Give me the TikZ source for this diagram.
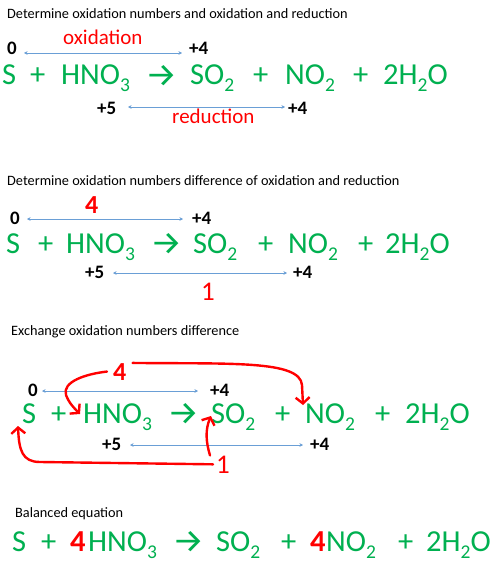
\documentclass[tikz,border=0pt]{standalone}
\usepackage{fontspec}
\setmainfont{Carlito}
\newfontfamily\arrfont{Fira Sans}
\usetikzlibrary{arrows.meta}
\definecolor{eqgreen}{HTML}{00B050}
\definecolor{redc}{HTML}{FF0000}
\definecolor{bluec}{HTML}{6A9FD6}
\newcommand\sbx[1]{\raisebox{-7pt}{\fontsize{19.5}{19.5}\selectfont #1}}
\newcommand\rxarrow{\raisebox{-1.5pt}{\scalebox{1.2}[1.1]{→}}}
\begin{document}
\begin{tikzpicture}[x=1pt,y=-1pt,
  title/.style={anchor=base west, inner sep=0pt, font=\fontsize{14.3}{16}\selectfont},
  eq/.style={anchor=base west, inner sep=0pt, text=eqgreen, font=\fontsize{30.5}{31}\selectfont},
  rxn/.style={anchor=base west, inner sep=0pt, text=eqgreen, font=\arrfont\fontsize{30}{31}\selectfont},
  coef/.style={anchor=base west, inner sep=0pt, text=redc, font=\bfseries\fontsize{30.5}{31}\selectfont},
  onum/.style={anchor=base west, inner sep=0pt, font=\bfseries\fontsize{19}{20}\selectfont},
  rlabel/.style={anchor=base west, inner sep=0pt, text=redc, font=\fontsize{21}{22}\selectfont},
  bignum/.style={anchor=base west, inner sep=0pt, text=redc, font=\bfseries\fontsize{26}{26}\selectfont},
  thinnum/.style={anchor=base west, inner sep=0pt, text=redc, font=\fontsize{27}{27}\selectfont},
  barrow/.style={draw=bluec, line width=0.9pt, arrows={Stealth[length=3.5pt,width=3.5pt]-Stealth[length=3.5pt,width=3.5pt]}},
  rarrow/.style={draw=redc, line width=2.4pt, line cap=round, arrows={-Straight Barb[length=6pt,width=14pt]}}
]
\fill[white] (0,0) rectangle (500,567);
\useasboundingbox (0,0) rectangle (500,567);

% ---------- Section 1
\node[title] (t1) at (7,19) {Determine oxidation numbers and oxidation and reduction};
\node[rlabel] (ox1) at (63,45) {oxidation};
\node[onum] (a0) at (7,55) {0};
\node[onum] (a4) at (189,55) {+4};
\coordinate (a0r) at (24,53); \coordinate (a4l) at (182,53);
\draw[barrow] (a0r) -- (a4l);
\node[eq] (s1) at (2,85) {S};
\node[eq] (pa1) at (30,85) {+};
\node[eq] (h1) at (61,85) {HNO\sbx{3}};
\node[rxn] (r1) at (145,85) {\rxarrow};
\node[eq] (so1) at (190,85) {SO\sbx{2}};
\node[eq] (pb1) at (253,85) {+};
\node[eq] (n1) at (285,85) {NO\sbx{2}};
\node[eq] (pc1) at (353,85) {+};
\node[eq] (w1) at (383,85) {2H\sbx{2}O};
\node[onum] (b5) at (97,115) {+5};
\node[onum] (b4) at (288,115) {+4};
\coordinate (b5r) at (128,107); \coordinate (b4l) at (285,107);
\draw[barrow] (b5r) -- (b4l);
\node[rlabel] (red1) at (172,124) {reduction};

% ---------- Section 2
\node[title] (t2) at (7,185) {Determine oxidation numbers difference of oxidation and reduction};
\node[bignum] (d4) at (85,213) {4};
\node[onum] (c0) at (10,224) {0};
\node[onum] (c4) at (192,224) {+4};
\coordinate (c0r) at (27,219); \coordinate (c4l) at (183,219);
\draw[barrow] (c0r) -- (c4l);
\node[eq] (s2) at (6,253) {S};
\node[eq] (pa2) at (38,253) {+};
\node[eq] (h2) at (66,253) {HNO\sbx{3}};
\node[rxn] (r2) at (150,253) {\rxarrow};
\node[eq] (so2) at (193,253) {SO\sbx{2}};
\node[eq] (pb2) at (258,253) {+};
\node[eq] (n2) at (288,253) {NO\sbx{2}};
\node[eq] (pc2) at (358,253) {+};
\node[eq] (w2) at (385,253) {2H\sbx{2}O};
\node[onum] (e5) at (85,278) {+5};
\node[onum] (e4) at (293,278) {+4};
\coordinate (e5r) at (113,273); \coordinate (e4l) at (287,273);
\draw[barrow] (e5r) -- (e4l);
\node[thinnum] (d1) at (201,300) {1};

% ---------- Section 3
\node[title] (t3) at (11,335) {Exchange oxidation numbers difference};
\node[bignum] (f4) at (113,380) {4};
\node[onum] (g0) at (28,396) {0};
\node[onum] (g4) at (210,396) {+4};
\coordinate (g0r) at (42,391); \coordinate (g4l) at (198,391);
\draw[barrow] (g0r) -- (g4l);
\node[eq] (s3) at (22,423) {S};
\node[eq] (pa3) at (51,423) {+};
\node[eq] (h3) at (83,423) {HNO\sbx{3}};
\node[rxn] (r3) at (167,423) {\rxarrow};
\node[eq] (so3) at (211,423) {SO\sbx{2}};
\node[eq] (pb3) at (275,423) {+};
\node[eq] (n3) at (305,423) {NO\sbx{2}};
\node[eq] (pc3) at (375,423) {+};
\node[eq] (w3) at (405,423) {2H\sbx{2}O};
\node[onum] (k5) at (102,450) {+5};
\node[onum] (k4) at (310,450) {+4};
\coordinate (k5r) at (130,445); \coordinate (k4l) at (303,445);
\draw[barrow] (k5r) -- (k4l);
\node[thinnum] (f1) at (216,473) {1};
% red exchange arrows
\coordinate (tipA) at (80,414);
\coordinate (tipB) at (303,405);
\coordinate (tipC) at (18,426);
\coordinate (tipD) at (211,416);
\draw[rarrow] ([xshift=-6pt]f4.west) .. controls (85,374) and (62,382) .. (66,395) .. controls (69,403) and (74,408) .. (tipA);
\draw[rarrow] ([xshift=6pt]f4.north east) .. controls (230,364) and (300,360) .. (302,385) -- (tipB);
\draw[rarrow] ([xshift=-3pt]f1.west) -- (40,462) .. controls (22,462) and (19,450) .. (tipC);
\draw[rarrow] ([xshift=-6pt]f1.north west) .. controls (206,442) and (205,430) .. (tipD);

% ---------- Section 4
\node[title] (t4) at (15,517) {Balanced equation};
\node[eq] (s4) at (12,551) {S};
\node[eq] (pa4) at (41,551) {+};
\node[coef] (q4a) at (70,551) {4};
\node[eq] (h4) at (88,551) {HNO\sbx{3}};
\node[rxn] (r4) at (172,551) {\rxarrow};
\node[eq] (so4) at (216,551) {SO\sbx{2}};
\node[eq] (pb4) at (281,551) {+};
\node[coef] (q4b) at (310,551) {4};
\node[eq] (n4) at (326,551) {NO\sbx{2}};
\node[eq] (pc4) at (398,551) {+};
\node[eq] (w4) at (426,551) {2H\sbx{2}O};
\end{tikzpicture}
\end{document}
